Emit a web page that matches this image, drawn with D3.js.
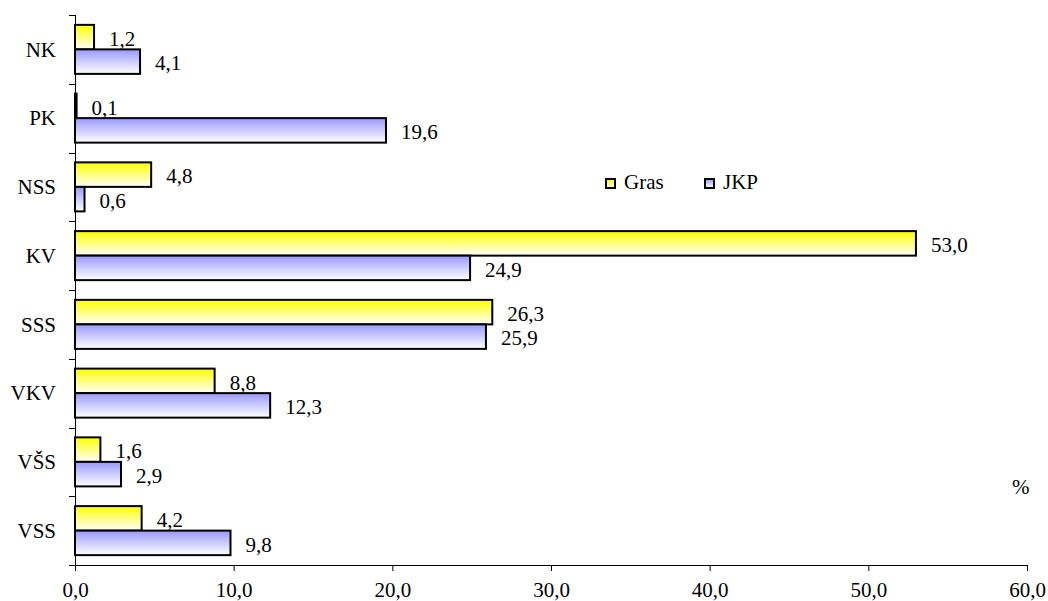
<!DOCTYPE html>
<html><head><meta charset="utf-8">
<script src="https://cdn.jsdelivr.net/npm/d3@7"></script>
<style>body{margin:0;background:#fff}svg{display:block;font-family:"Liberation Serif","Times New Roman",serif}</style>
</head><body><svg id="c" width="1048" height="601"></svg>
<script>
const categories = ["NK","PK","NSS","KV","SSS","VKV","VŠS","VSS"];
const seriesNames = ["Gras","JKP"];
const gras = [1.2,0.1,4.8,53.0,26.3,8.8,1.6,4.2];
const jkp = [4.1,19.6,0.6,24.9,25.9,12.3,2.9,9.8];
const xTicks = [0,10,20,30,40,50,60];
const fmt = v => v.toFixed(1).replace(".", ",");
const FS = 21;

const svg = d3.select("#c");
const defs = svg.append("defs");
function grad(id, c){
  const g = defs.append("linearGradient").attr("id", id).attr("x1",0).attr("y1",0).attr("x2",0).attr("y2",1);
  g.append("stop").attr("offset","0%").attr("stop-color", c);
  g.append("stop").attr("offset","100%").attr("stop-color","#ffffff");
}
grad("gY","#ffff00"); grad("gB","#9999ff");
const fills = ["url(#gY)","url(#gB)"];

const x = d3.scaleLinear().domain([0,60]).range([75,1027]);
const y = d3.scaleBand().domain(categories).range([15,565]).paddingInner(0.287).paddingOuter(0.1435);
const y2 = d3.scaleBand().domain(seriesNames).range([0,y.bandwidth()]);

// x axis
const xAxis = d3.axisBottom(x).tickValues(xTicks).tickFormat(fmt).tickSize(6).tickSizeOuter(0);
const gx = svg.append("g").attr("transform","translate(0,565)").call(xAxis);
gx.select(".domain").attr("stroke","#000").attr("d","M69,0.5H1027");
gx.selectAll(".tick line").attr("stroke","#000");
gx.selectAll(".tick text").attr("font-size",FS).attr("font-family","Liberation Serif").attr("fill","#000")
  .attr("y",32).attr("dy",0);

// y axis line with ticks at band boundaries
const bounds = d3.range(categories.length+1).map(i => 15 + i*550/categories.length);
svg.append("line").attr("x1",75.5).attr("x2",75.5).attr("y1",15).attr("y2",565).attr("stroke","#000");
svg.selectAll(".ytick").data(bounds.slice(0,-1)).join("line").attr("x1",69).attr("x2",75)
  .attr("y1",d=>Math.round(d)+0.5).attr("y2",d=>Math.round(d)+0.5).attr("stroke","#000");
svg.selectAll(".ylab").data(categories).join("text")
  .attr("x",56).attr("y",d=>y(d)+y.bandwidth()/2).attr("dy","0.35em")
  .attr("text-anchor","end").attr("font-size",FS).text(d=>d);

const data = [gras, jkp];
data.forEach((vals, si) => {
  const g = svg.append("g");
  g.selectAll("rect").data(vals).join("rect")
    .attr("x", x(0)).attr("y",(d,i)=>y(categories[i])+y2(seriesNames[si]))
    .attr("width",d=>x(d)-x(0)).attr("height",y2.bandwidth())
    .attr("fill",fills[si]).attr("stroke","#000").attr("stroke-width",2);
  g.selectAll("text").data(vals).join("text")
    .attr("x",d=>x(d)+15).attr("y",(d,i)=>y(categories[i])+y2(seriesNames[si])+y2.bandwidth()/2+1.5)
    .attr("dy","0.35em").attr("font-size",FS).text(fmt);
});

// legend
const leg = svg.append("g");
const lx = [606, 705];
seriesNames.forEach((n,i)=>{
  leg.append("rect").attr("x",lx[i]).attr("y",179).attr("width",9).attr("height",9)
    .attr("fill",fills[i]).attr("stroke","#000").attr("stroke-width",2);
  leg.append("text").attr("x",lx[i]+18).attr("y",189).attr("font-size",FS).text(n);
});
svg.append("text").attr("x",1012).attr("y",494).attr("font-size",FS).text("%");
</script></body></html>
